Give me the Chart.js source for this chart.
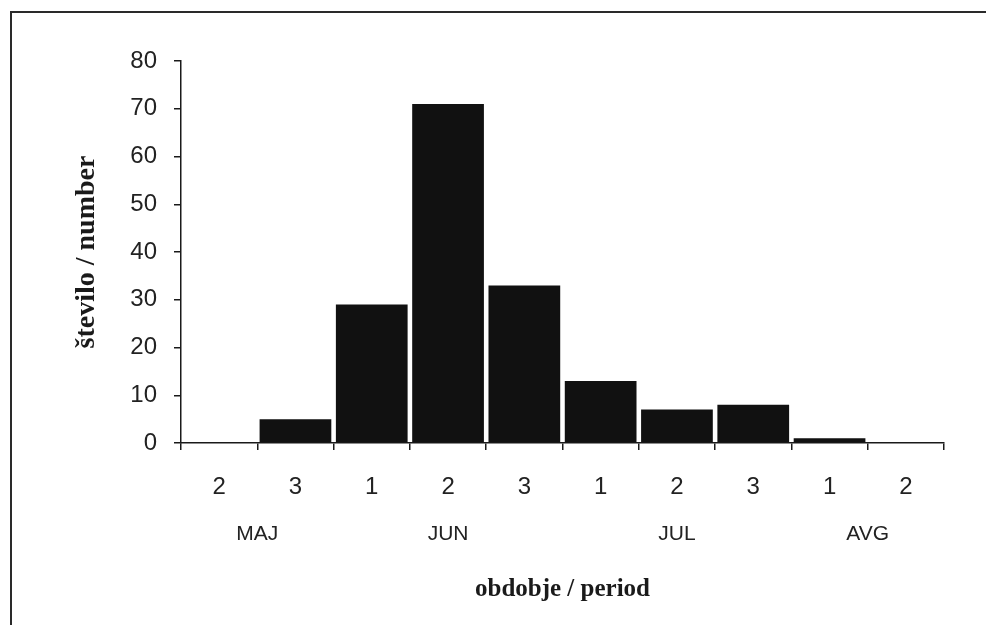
<!DOCTYPE html>
<html>
<head>
<meta charset="utf-8">
<script src="https://cdn.jsdelivr.net/npm/chart.js@4/dist/chart.umd.min.js"></script>
<style>
  html, body { margin: 0; padding: 0; background: #fff; }
  #wrap { position: relative; width: 986px; height: 625px; overflow: hidden; }
  #frame { position: absolute; left: 10px; top: 11px; width: 990px; height: 640px;
           border-top: 2px solid #2a2a2a; border-left: 2px solid #2a2a2a; pointer-events: none; }
  canvas { position: absolute; left: 0; top: 0; }
</style>
</head>
<body>
<div id="wrap">
  <canvas id="chartPeriod" width="986" height="625"></canvas>
  <div id="frame"></div>
</div>
<script>
// dekade po mesecih
const periods = ['2', '3', '1', '2', '3', '1', '2', '3', '1', '2'];
const counts = [0, 5, 29, 71, 33, 13, 7, 8, 1, 0];
const months = ['MAJ', 'JUN', 'JUL', 'AVG'];
const monthSpans = [2, 3, 3, 2];
const yTicks = [0, 10, 20, 30, 40, 50, 60, 70, 80];

const INK = '#1a1a1a';

// imena mesecev pod oznakami dekad
const monthLabels = {
    id: 'monthLabels',
    afterDraw(chart) {
        const x = chart.scales.x;
        const ctx = chart.ctx;
        ctx.save();
        ctx.font = '21px "Liberation Sans", Arial, sans-serif';
        ctx.fillStyle = '#222';
        ctx.textAlign = 'center';
        ctx.textBaseline = 'middle';
        let i = 0;
        months.forEach((m, k) => {
            let sum = 0;
            for (let j = 0; j < monthSpans[k]; j++) sum += x.getPixelForValue(i + j);
            ctx.fillText(m, sum / monthSpans[k], chart.chartArea.bottom + 91);
            i += monthSpans[k];
        });
        ctx.restore();
    }
};

new Chart(document.getElementById('chartPeriod'), {
    type: 'bar',
    data: {
        labels: periods,
        datasets: [{
            label: 'število',
            data: counts,
            backgroundColor: '#111',
            borderWidth: 0,
            barPercentage: 0.94,
            categoryPercentage: 1
        }]
    },
    options: {
        responsive: false,
        devicePixelRatio: 1,
        animation: false,
        layout: { padding: { top: 61, right: 42, bottom: 0, left: 0 } },
        plugins: { legend: { display: false }, tooltip: { enabled: false } },
        scales: {
            x: {
                afterFit: s => { s.height = 182; },
                grid: { offset: true, drawOnChartArea: false, drawTicks: true, tickLength: 7,
                        color: INK, lineWidth: 1.5 },
                border: { display: true, color: INK, width: 1.5 },
                ticks: { color: '#222', padding: 23,
                         font: { family: '"Liberation Sans", Arial, sans-serif', size: 24 } },
                title: { display: true, text: 'obdobje / period', color: '#1a1a1a',
                         padding: { bottom: 20 },
                         font: { family: '"Liberation Serif", "Times New Roman", serif', size: 25, weight: 'bold' } }
            },
            y: {
                min: 0,
                max: 80,
                afterFit: s => { s.width = 181; },
                afterBuildTicks: s => { s.ticks = yTicks.map(v => ({ value: v })); },
                grid: { drawOnChartArea: false, drawTicks: true, tickLength: 7,
                        color: INK, lineWidth: 1.5 },
                border: { display: true, color: INK, width: 1.5 },
                ticks: { color: '#222', padding: 17,
                         font: { family: '"Liberation Sans", Arial, sans-serif', size: 24 } },
                title: { display: true, text: 'število / number', color: '#1a1a1a',
                         padding: { top: 70 },
                         font: { family: '"Liberation Serif", "Times New Roman", serif', size: 28, weight: 'bold' } }
            }
        }
    },
    plugins: [monthLabels]
});
</script>
</body>
</html>
